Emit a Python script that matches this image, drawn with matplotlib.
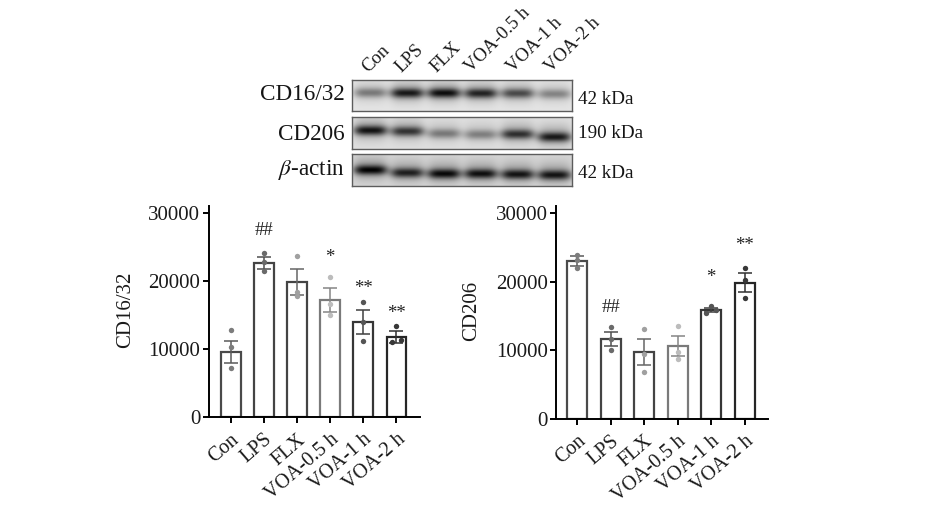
import numpy as np
import matplotlib
matplotlib.use("Agg")
import matplotlib.pyplot as plt

plt.rcParams["font.family"] = ["Liberation Serif", "DejaVu Serif"]
plt.rcParams["mathtext.fontset"] = "stix"

W, H = 928, 522

groups = ["Con", "LPS", "FLX", "VOA-0.5 h", "VOA-1 h", "VOA-2 h"]

# left chart
cd16_mean = [9620, 22700, 19930, 17280, 14000, 11830]
cd16_sem = [1650, 850, 1900, 1750, 1700, 850]
cd16_pts = [
    [12800, 10350, 7200],
    [24150, 22800, 21500],
    [23660, 18360, 17820],
    [20570, 16600, 14970],
    [16900, 14040, 11240],
    [13450, 11340, 11000],
]
cd16_sig = ["", "##", "", "*", "**", "**"]
cd16_sig_y = [0, 27550, 0, 23450, 18950, 15250]

# right chart
cd206_mean = [22990, 11600, 9740, 10620, 15880, 19870]
cd206_sem = [700, 1000, 1900, 1500, 350, 1370]
cd206_pts = [
    [23960, 23200, 22060],
    [13400, 11640, 10030],
    [13100, 9450, 6870],
    [13500, 9800, 8670],
    [16460, 15880, 15500],
    [21970, 20260, 17580],
]
cd206_sig = ["", "##", "", "", "*", "**"]
cd206_sig_y = [0, 16300, 0, 0, 20550, 25250]

# greys differ per bar in the reference
bar_col = ["#4a4a4a", "#444444", "#444444", "#7a7a7a", "#363636", "#262626"]
err_col = ["#5a5a5a", "#505050", "#666666", "#858585", "#404040", "#303030"]
pt_col = ["#7c7c7c", "#6a6a6a", "#a0a0a0", "#bcbcbc", "#555555", "#383838"]

# blot: band strength per lane, band height inside the row
blot_names = ["CD16/32", "CD206", r"$\beta$-actin"]
blot_kda = ["42 kDa", "190 kDa", "42 kDa"]
blot_strength = [
    [0.50, 0.95, 1.00, 0.90, 0.72, 0.45],
    [0.95, 0.80, 0.48, 0.45, 0.82, 0.92],
    [0.98, 0.85, 0.95, 0.92, 0.90, 0.90],
]
blot_band_y = [
    [0.43, 0.44, 0.44, 0.45, 0.45, 0.47],
    [0.42, 0.45, 0.52, 0.55, 0.54, 0.63],
    [0.50, 0.59, 0.62, 0.62, 0.64, 0.66],
]
blot_back = [0.90, 0.88, 0.84]


def axes_px(x0, y0, x1, y1):
    # y0 = top, y1 = bottom, in picture pixels
    return fig.add_axes([x0 / W, 1 - y1 / H, (x1 - x0) / W, (y1 - y0) / H])


def draw_blot(ax, strength, band_y, back):
    yy, xx = np.mgrid[0:1:64j, 0:6:440j]
    img = np.full(xx.shape, back)
    for i, (s, y) in enumerate(zip(strength, band_y)):
        lane = np.exp(-(((xx - i - 0.5) / 0.46) ** 4))
        img -= s * 0.62 * lane * np.exp(-(((yy - y) / 0.15) ** 2))
        img -= s * 0.24 * lane * np.exp(-(((yy - y + 0.05) / 0.36) ** 2))
    ax.imshow(img, cmap="gray", vmin=0, vmax=1, aspect="auto", extent=(0, 6, 1, 0),
              interpolation="bilinear")
    ax.set_xticks([])
    ax.set_yticks([])
    for s in ax.spines.values():
        s.set_edgecolor("#5c5c5c")
        s.set_linewidth(1.0)


def draw_chart(ax, mean, sem, pts, sig, sig_y, ylabel):
    x = np.arange(len(groups))
    ax.bar(x, mean, width=0.6, facecolor="white", edgecolor=bar_col, linewidth=1.6)
    for i in x:
        ax.errorbar(i, mean[i], yerr=sem[i], color=err_col[i], capsize=5,
                    capthick=1.1, elinewidth=1.1)
        off = [0, 0, 0]
        # points that sit close together are pushed sideways, as in Prism
        vals = sorted(pts[i], reverse=True)
        if vals[1] - vals[2] < 500:
            off = [0, 0.14, -0.14]
        ax.scatter(x=[i + o for o in off], y=vals, s=15, color=pt_col[i], zorder=3,
                   linewidths=0)
        if sig[i]:
            ax.text(i, sig_y[i], sig[i], ha="center", va="center", fontsize=13.5,
                    color="#222222")
    ax.set_ylim(0, 31100)
    ax.set_yticks([0, 10000, 20000, 30000])
    ax.set_xticks(x)
    ax.set_xticklabels(groups, rotation=41, ha="right", rotation_mode="anchor",
                       fontsize=14.5, color="#1a1a1a")
    ax.tick_params(axis="y", labelsize=15, width=1.4, length=4.5, pad=1.5,
                   labelcolor="#1a1a1a")
    ax.tick_params(axis="x", width=1.4, length=4.5, pad=5)
    ax.set_ylabel(ylabel, fontsize=15, color="#1a1a1a")
    ax.spines["top"].set_visible(False)
    ax.spines["right"].set_visible(False)
    ax.spines["left"].set_linewidth(1.4)
    ax.spines["bottom"].set_linewidth(1.4)
    ax.patch.set_alpha(0)


fig = plt.figure(figsize=(W / 100, H / 100), dpi=100, facecolor="white")

rows = [(79.5, 111), (116.5, 148.5), (154, 186)]
name_y = [94, 134, 170.5]
kda_y = [99, 134, 174]
for k, (top, bot) in enumerate(rows):
    ax = axes_px(352, top, 572, bot)
    draw_blot(ax, blot_strength[k], blot_band_y[k], blot_back[k])
    fig.text(345 / W, 1 - name_y[k] / H, blot_names[k], ha="right", va="center",
             fontsize=16.7, color="#151515")
    fig.text(577.5 / W, 1 - kda_y[k] / H, blot_kda[k], ha="left", va="center",
             fontsize=13.8, color="#151515")

# lane labels above the blot, x is where each label starts
lane_x = [371, 404, 439, 474, 516, 554]
for name, lx in zip(groups, lane_x):
    fig.text(lx / W, 1 - 76 / H, name, rotation=45, ha="left", va="bottom",
             rotation_mode="anchor", fontsize=13.4, color="#1a1a1a")

# xlim chosen so bar spacing matches the reference
ax1 = axes_px(208.7, 206, 420, 417)
draw_chart(ax1, cd16_mean, cd16_sem, cd16_pts, cd16_sig, cd16_sig_y, "CD16/32")
ax1.set_xlim(-0.664, 5.71)
ax1.yaxis.set_label_coords(-0.347, 0.507)

ax2 = axes_px(556, 205.7, 768, 418.7)
draw_chart(ax2, cd206_mean, cd206_sem, cd206_pts, cd206_sig, cd206_sig_y, "CD206")
ax2.set_xlim(-0.635, 5.70)
ax2.yaxis.set_label_coords(-0.354, 0.508)

fig.savefig("out.png", dpi=100)
